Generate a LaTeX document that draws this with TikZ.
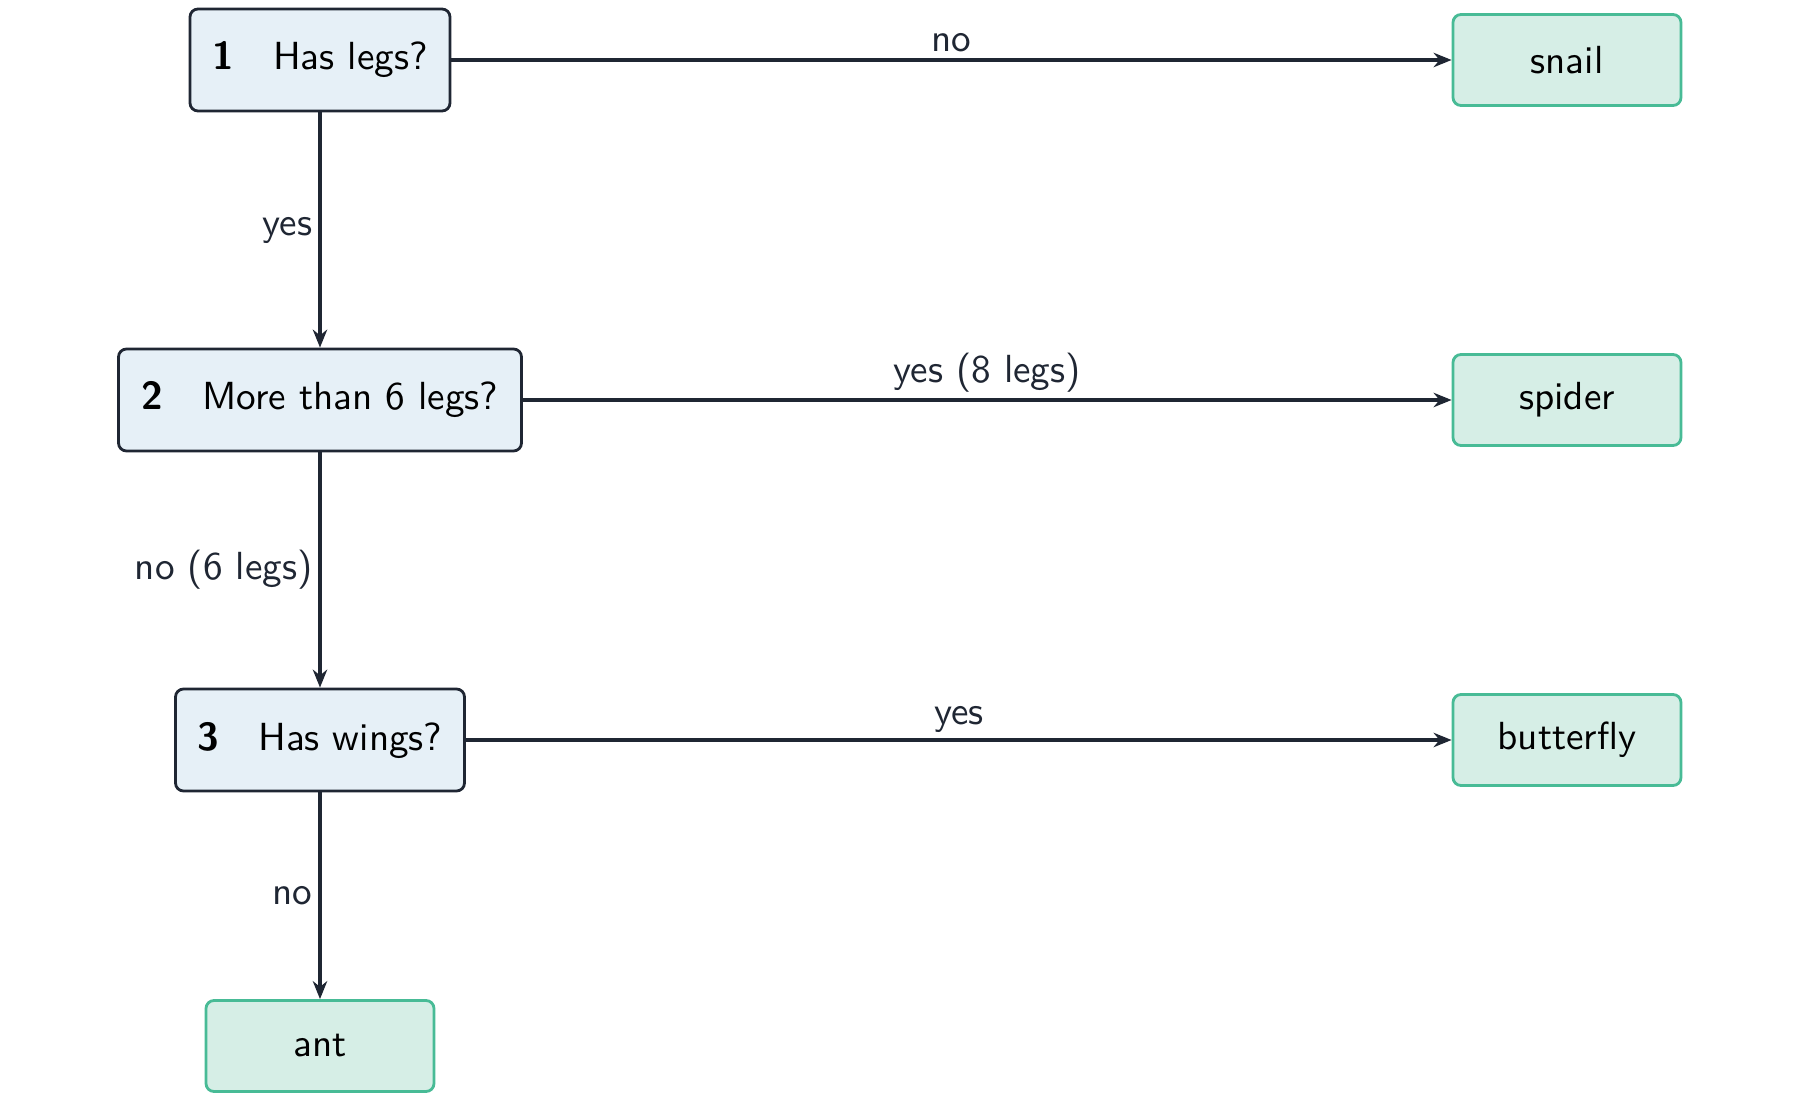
\documentclass[tikz,border=0pt]{standalone}
\usetikzlibrary{arrows.meta}
\definecolor{ink}{HTML}{1F2633}
\definecolor{qfill}{HTML}{E6F0F7}
\definecolor{lfill}{HTML}{D6EEE6}
\definecolor{lborder}{HTML}{48BB96}
\begin{document}
\begin{tikzpicture}[x=0.25pt,y=-0.25pt,
  every node/.style={font=\sffamily\fontsize{9.8}{11.8}\selectfont},
  qbox/.style={draw=ink, fill=qfill, line width=0.7pt, rounded corners=2pt, minimum height=25.5pt, inner sep=0pt, text=black},
  leaf/.style={draw=lborder, fill=lfill, line width=0.7pt, rounded corners=2pt, minimum width=57pt, minimum height=22.75pt, inner sep=0pt, text=black},
  conn/.style={draw=ink, line width=0.85pt, -{Stealth[length=4.5pt,width=3.6pt]}},
  lab/.style={text=ink, fill=white, inner sep=1.5pt}
]
\useasboundingbox (0,0) rectangle (1800,1102);
\node[qbox, minimum width=65pt] (q1) at (320,60) {\textbf{1}\quad Has legs?};
\node[qbox, minimum width=100.75pt] (q2) at (320,400) {\textbf{2}\quad More than 6 legs?};
\node[qbox, minimum width=72.25pt] (q3) at (320,740) {\textbf{3}\quad Has wings?};
\node[leaf] (snail) at (1567,60) {snail};
\node[leaf] (spider) at (1567,400) {spider};
\node[leaf] (butterfly) at (1567,740) {butterfly};
\node[leaf] (ant) at (320,1046) {ant};
\draw[conn] (q1) -- node[lab, midway, above=0pt] {no} (snail);
\draw[conn] (q1) -- node[lab, midway, left=0pt] {yes} (q2);
\draw[conn] (q2) -- node[lab, midway, above=0pt] {yes (8 legs)} (spider);
\draw[conn] (q2) -- node[lab, midway, left=0pt] {no (6 legs)} (q3);
\draw[conn] (q3) -- node[lab, midway, above=0pt] {yes} (butterfly);
\draw[conn] (q3) -- node[lab, midway, left=0pt] {no} (ant);
\end{tikzpicture}
\end{document}
